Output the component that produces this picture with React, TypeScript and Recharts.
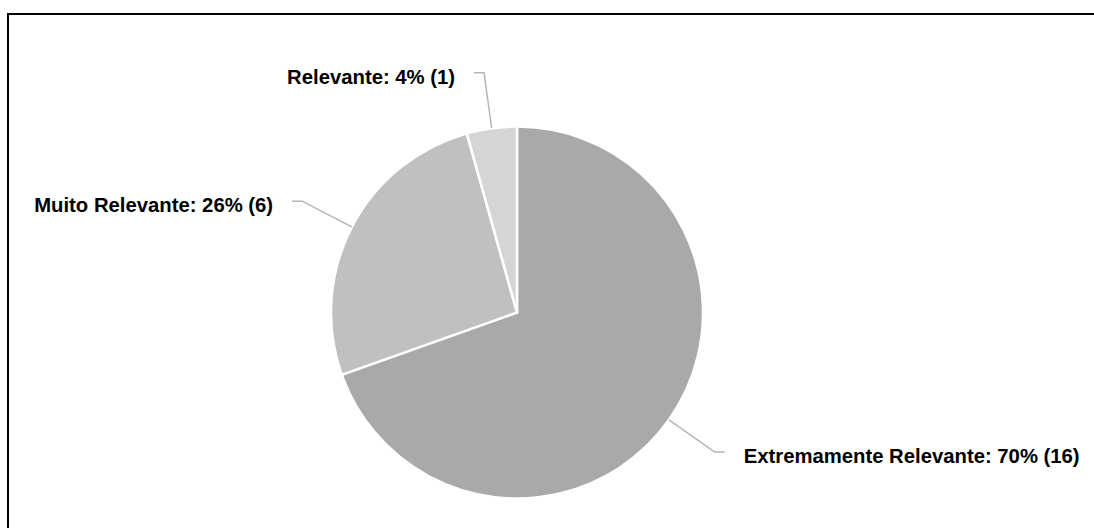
import React from "react";
import { PieChart, Pie, Cell } from "recharts";

const categories = ["Extremamente Relevante", "Muito Relevante", "Relevante"];
const counts = [16, 6, 1];
const colors = ["#a9a9a9", "#c0c0c0", "#d5d5d5"];

const data = categories.map((name, i) => ({ name, value: counts[i] }));

const RADIAN = Math.PI / 180;

const renderLabel = (props: any) => {
  const { cx, cy, midAngle, outerRadius, percent, name, value } = props;
  const cos = Math.cos(-midAngle * RADIAN);
  const sin = Math.sin(-midAngle * RADIAN);
  const dir = cos >= 0 ? 1 : -1;
  const sx = cx + outerRadius * cos;
  const sy = cy + outerRadius * sin;
  const mx = cx + (outerRadius + 56) * cos;
  const my = cy + (outerRadius + 56) * sin;
  const ex = mx + dir * 10;
  return (
    <g>
      <polyline
        points={`${sx},${sy} ${mx},${my} ${ex},${my}`}
        fill="none"
        stroke="#b4b4b4"
        strokeWidth={1.5}
      />
      <text
        x={ex + dir * 19}
        y={my + 11}
        textAnchor={dir > 0 ? "start" : "end"}
        fill="#000"
        fontSize={20.3}
        fontWeight="bold"
        fontFamily="'Liberation Sans', Arial, sans-serif"
      >
        {`${name}: ${Math.round(percent * 100)}% (${value})`}
      </text>
    </g>
  );
};

const App: React.FC = () => {
  return (
    <div
      style={{
        position: "absolute",
        left: 0,
        top: 0,
        width: 1094,
        height: 528,
        overflow: "hidden",
        background: "#fff",
      }}
    >
      <div
        style={{
          position: "absolute",
          left: 7,
          top: 13,
          width: 1200,
          height: 600,
          borderTop: "2px solid #000",
          borderLeft: "2px solid #000",
        }}
      />
      <div style={{ position: "absolute", left: 0, top: 0 }}>
        <PieChart width={1094} height={528} margin={{ top: 0, right: 0, bottom: 0, left: 0 }}>
          <Pie
            data={data}
            dataKey="value"
            nameKey="name"
            cx={517}
            cy={312.5}
            outerRadius={186}
            startAngle={90}
            endAngle={-270}
            stroke="#fff"
            strokeWidth={2.5}
            cornerRadius={2}
            label={renderLabel}
            labelLine={false}
            isAnimationActive={false}
          >
            {data.map((d, i) => (
              <Cell key={d.name} fill={colors[i]} />
            ))}
          </Pie>
        </PieChart>
      </div>
    </div>
  );
};

export default App;
